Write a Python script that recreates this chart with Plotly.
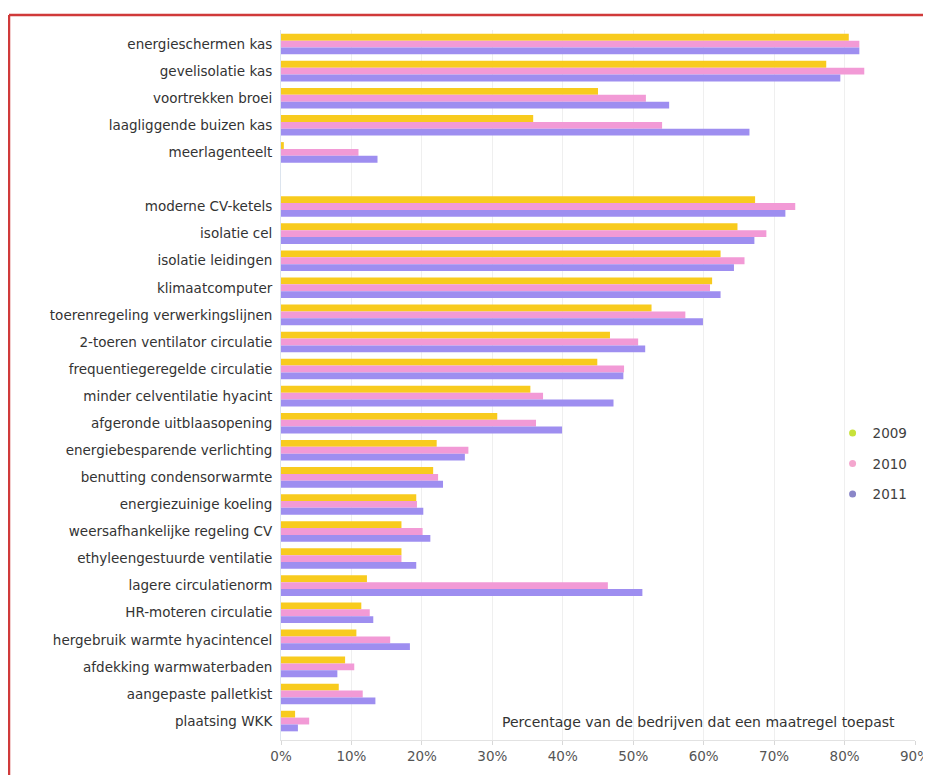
import plotly.graph_objects as go

categories = [
    "energieschermen kas",
    "gevelisolatie kas",
    "voortrekken broei",
    "laagliggende buizen kas",
    "meerlagenteelt",
    " ",
    "moderne CV-ketels",
    "isolatie cel",
    "isolatie leidingen",
    "klimaatcomputer",
    "toerenregeling verwerkingslijnen",
    "2-toeren ventilator circulatie",
    "frequentiegeregelde circulatie",
    "minder celventilatie hyacint",
    "afgeronde uitblaasopening",
    "energiebesparende verlichting",
    "benutting condensorwarmte",
    "energiezuinige koeling",
    "weersafhankelijke regeling CV",
    "ethyleengestuurde ventilatie",
    "lagere circulatienorm",
    "HR-moteren circulatie",
    "hergebruik warmte hyacintencel",
    "afdekking warmwaterbaden",
    "aangepaste palletkist",
    "plaatsing WKK",
]

v2009 = [80.6, 77.4, 45.0, 35.8, 0.4, None, 67.3, 64.8, 62.4, 61.2, 52.6, 46.7, 44.9,
         35.4, 30.7, 22.1, 21.6, 19.2, 17.1, 17.1, 12.2, 11.4, 10.7, 9.1, 8.2, 2.0]
v2010 = [82.1, 82.8, 51.8, 54.1, 11.0, None, 73.0, 68.9, 65.8, 60.9, 57.4, 50.7, 48.7,
         37.2, 36.2, 26.6, 22.3, 19.3, 20.1, 17.1, 46.4, 12.6, 15.5, 10.4, 11.6, 4.0]
v2011 = [82.1, 79.4, 55.1, 66.5, 13.7, None, 71.6, 67.2, 64.3, 62.4, 59.9, 51.7, 48.6,
         47.2, 39.9, 26.1, 23.0, 20.2, 21.2, 19.2, 51.3, 13.1, 18.3, 8.0, 13.4, 2.4]

years = ["2009", "2010", "2011"]
bar_colors = ["#F8CB1E", "#F29AD6", "#9E8EF0"]
legend_colors = ["#C8E23A", "#F4A6CE", "#8A86C8"]
axis_ticks = [0, 10, 20, 30, 40, 50, 60, 70, 80, 90]
tick_text = ["0%", "10%", "20%", "30%", "40%", "50%", "60%", "70%", "80%", "90%"]
note = "Percentage van de bedrijven dat een maatregel toepast"

# the page adds an 8px body margin, so the figure is sized/offset accordingly
W, H = 923, 767
L, R, T, B = 273, 16, 22, 35
PW, PH = W - L - R, H - T - B

fig = go.Figure()
for yr, vals, col in zip(years, [v2009, v2010, v2011], bar_colors):
    fig.add_trace(go.Bar(
        y=categories, x=vals, orientation="h", name=yr,
        marker=dict(color=col, line=dict(width=0)),
        showlegend=False,
    ))
for yr, col in zip(years, legend_colors):
    fig.add_trace(go.Scatter(
        x=[None], y=[None], mode="markers", name=yr,
        marker=dict(color=col, size=7, symbol="circle"),
        legendgroup=yr, showlegend=True,
    ))

font_family = "DejaVu Sans, Liberation Sans, Arial, sans-serif"
border_x = (1 - L) / PW
border_y = 1 + (T - 7) / PH

fig.update_layout(
    width=W, height=H,
    paper_bgcolor="white", plot_bgcolor="white",
    margin=dict(l=L, r=R, t=T, b=B, autoexpand=False),
    barmode="group", bargap=0.24, bargroupgap=0.0,
    font=dict(family=font_family, size=13.5, color="#404040"),
    legend=dict(
        x=0.870, y=0.454, xanchor="left", yanchor="top",
        font=dict(size=13.5, color="#404040"),
        tracegroupgap=10, itemwidth=30,
        bgcolor="rgba(0,0,0,0)",
    ),
    xaxis=dict(
        range=[0, 90], tickvals=axis_ticks, ticktext=tick_text,
        showgrid=True, gridcolor="#EFEFEF", gridwidth=1,
        zeroline=False, showline=True, linecolor="#E2E2E2",
        ticks="outside", ticklen=4, tickcolor="#D8D8D8",
        tickfont=dict(size=13.5, color="#555555"),
        automargin=False,
    ),
    yaxis=dict(
        type="category", categoryorder="array", categoryarray=categories,
        range=[25.70, -0.52],
        showgrid=False, zeroline=False, showline=True, linecolor="#DCE4EE",
        ticks="", ticklabelstandoff=5,
        tickfont=dict(size=13.5, color="#333333"),
        automargin=False,
    ),
    annotations=[dict(
        text=note, xref="paper", yref="paper", x=0.971, y=0.0254,
        xanchor="right", yanchor="middle", showarrow=False,
        font=dict(size=14, color="#333333"),
    )],
    shapes=[
        dict(type="line", xref="paper", yref="paper",
             x0=border_x, x1=border_x, y0=border_y, y1=-0.2,
             line=dict(color="#D03A3A", width=2.5)),
        dict(type="line", xref="paper", yref="paper",
             x0=border_x, x1=1.2, y0=border_y, y1=border_y,
             line=dict(color="#D03A3A", width=2.5)),
    ],
)

fig.write_html("out.html")
